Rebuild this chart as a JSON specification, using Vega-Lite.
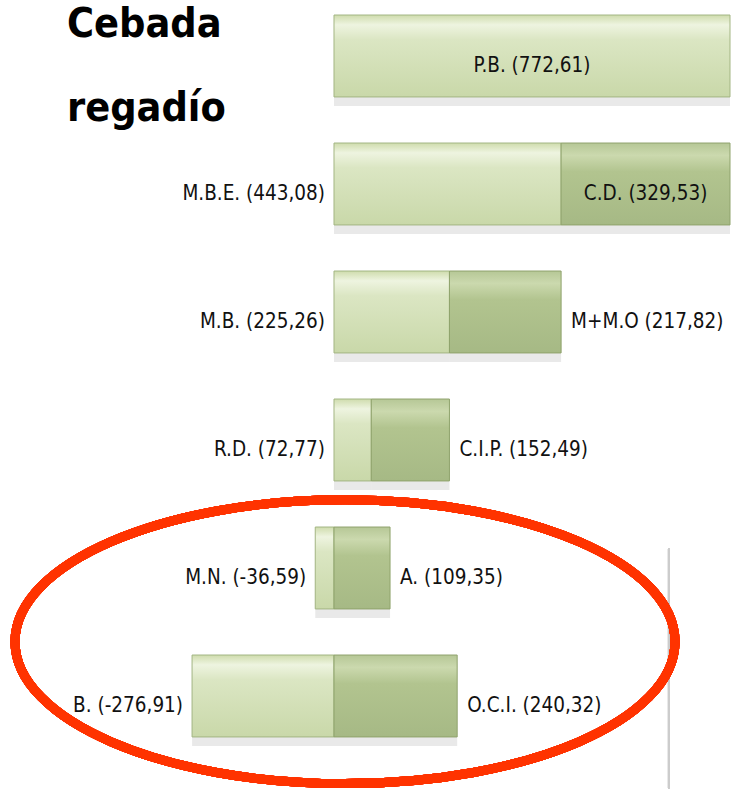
{
  "$schema": "https://vega.github.io/schema/vega-lite/v6.json",
  "autosize": {"type": "none"},
  "width": 734,
  "height": 789,
  "padding": 0,
  "background": "#ffffff",
  "config": {"view": {"stroke": null}},
  "data": {
    "values": [
      {"fila": "1", "parte": "claro", "inicio": 0, "fin": 772.61, "etiqueta": "P.B. (772,61)", "lado": "dentro"},
      {"fila": "2", "parte": "claro", "inicio": 0, "fin": 443.08, "etiqueta": "M.B.E. (443,08)", "lado": "izquierda"},
      {"fila": "2", "parte": "oscuro", "inicio": 443.08, "fin": 772.61, "etiqueta": "C.D. (329,53)", "lado": "dentro"},
      {"fila": "3", "parte": "claro", "inicio": 0, "fin": 225.26, "etiqueta": "M.B. (225,26)", "lado": "izquierda"},
      {"fila": "3", "parte": "oscuro", "inicio": 225.26, "fin": 443.08, "etiqueta": "M+M.O (217,82)", "lado": "derecha"},
      {"fila": "4", "parte": "claro", "inicio": 0, "fin": 72.77, "etiqueta": "R.D. (72,77)", "lado": "izquierda"},
      {"fila": "4", "parte": "oscuro", "inicio": 72.77, "fin": 225.26, "etiqueta": "C.I.P. (152,49)", "lado": "derecha"},
      {"fila": "5", "parte": "claro", "inicio": -36.59, "fin": 0, "etiqueta": "M.N. (-36,59)", "lado": "izquierda"},
      {"fila": "5", "parte": "oscuro", "inicio": 0, "fin": 109.35, "etiqueta": "A. (109,35)", "lado": "derecha"},
      {"fila": "6", "parte": "claro", "inicio": -276.91, "fin": 0, "etiqueta": "B. (-276,91)", "lado": "izquierda"},
      {"fila": "6", "parte": "oscuro", "inicio": 0, "fin": 240.32, "etiqueta": "O.C.I. (240,32)", "lado": "derecha"}
    ]
  },
  "encoding": {
    "y": {
      "field": "fila",
      "type": "nominal",
      "axis": null,
      "scale": {"domain": ["1", "2", "3", "4", "5", "6"], "paddingInner": 0.36, "paddingOuter": 0.262, "align": 0.224}
    }
  },
  "layer": [
    {
      "mark": {"type": "bar", "fill": "#9a9a9a", "opacity": 0.22, "yOffset": 9, "cornerRadius": 0},
      "encoding": {
        "x": {"field": "inicio", "type": "quantitative", "axis": null, "scale": {"domain": [-651.6, 780.4], "nice": false, "zero": false}},
        "x2": {"field": "fin"}
      }
    },
    {
      "transform": [{"filter": "datum.parte === 'claro'"}],
      "mark": {
        "type": "bar",
        "stroke": "#a3b583",
        "strokeWidth": 1,
        "fill": {"gradient": "linear", "x1": 0, "y1": 0, "x2": 0, "y2": 1, "stops": [
          {"offset": 0, "color": "#cfdcad"},
          {"offset": 0.12, "color": "#eef4e0"},
          {"offset": 0.3, "color": "#dbe6c3"},
          {"offset": 1, "color": "#c9d8a9"}
        ]}
      },
      "encoding": {
        "x": {"field": "inicio", "type": "quantitative"},
        "x2": {"field": "fin"}
      }
    },
    {
      "transform": [{"filter": "datum.parte === 'oscuro'"}],
      "mark": {
        "type": "bar",
        "stroke": "#8fa36c",
        "strokeWidth": 1,
        "fill": {"gradient": "linear", "x1": 0, "y1": 0, "x2": 0, "y2": 1, "stops": [
          {"offset": 0, "color": "#b6c796"},
          {"offset": 0.15, "color": "#cbd9ae"},
          {"offset": 0.35, "color": "#b2c48f"},
          {"offset": 1, "color": "#a6b985"}
        ]}
      },
      "encoding": {
        "x": {"field": "inicio", "type": "quantitative"},
        "x2": {"field": "fin"}
      }
    },
    {
      "transform": [{"filter": "datum.lado === 'izquierda'"}],
      "mark": {"type": "text", "align": "right", "baseline": "middle", "dx": -9, "dy": 10, "font": "DejaVu Sans Condensed", "fontSize": 20.5, "color": "#111111"},
      "encoding": {
        "x": {"field": "inicio", "type": "quantitative"},
        "text": {"field": "etiqueta"}
      }
    },
    {
      "transform": [{"filter": "datum.lado === 'derecha'"}],
      "mark": {"type": "text", "align": "left", "baseline": "middle", "dx": 10, "dy": 10, "font": "DejaVu Sans Condensed", "fontSize": 20.5, "color": "#111111"},
      "encoding": {
        "x": {"field": "fin", "type": "quantitative"},
        "text": {"field": "etiqueta"}
      }
    },
    {
      "transform": [
        {"filter": "datum.lado === 'dentro'"},
        {"fold": ["inicio", "fin"], "as": ["extremo", "valor"]}
      ],
      "mark": {"type": "text", "align": "center", "baseline": "middle", "dy": 10, "font": "DejaVu Sans Condensed", "fontSize": 20.5, "color": "#111111"},
      "encoding": {
        "x": {"field": "valor", "type": "quantitative", "aggregate": "mean"},
        "text": {"field": "etiqueta"}
      }
    },
    {
      "data": {"values": [{"titulo": "Cebada\nregadío"}]},
      "mark": {"type": "text", "align": "left", "baseline": "top", "lineBreak": "\n", "lineHeight": 84, "font": "DejaVu Sans Condensed", "fontSize": 41, "fontWeight": "bold", "color": "#000000"},
      "encoding": {
        "x": {"datum": -521, "type": "quantitative"},
        "y": {"datum": "1", "bandPosition": -0.12},
        "text": {"field": "titulo"}
      }
    },
    {
      "mark": {"type": "rule", "color": "#cccccc", "strokeWidth": 2},
      "encoding": {
        "x": {"datum": 653.5, "type": "quantitative"},
        "y": {"datum": "5", "bandPosition": 0.26},
        "y2": {"datum": "6", "bandPosition": 1.63}
      }
    },
    {
      "mark": {
        "type": "point",
        "filled": false,
        "stroke": "#ff3300",
        "strokeWidth": 9,
        "opacity": 1,
        "size": 435600,
        "shape": "M -1 0 C -1 -0.2375 -0.5523 -0.43 0 -0.43 C 0.5523 -0.43 1 -0.2375 1 0 C 1 0.2375 0.5523 0.43 0 0.43 C -0.5523 0.43 -1 0.2375 -1 0 Z"
      },
      "encoding": {
        "x": {"datum": 21.5, "type": "quantitative"},
        "y": {"datum": "5", "bandPosition": 1.4}
      }
    }
  ]
}
